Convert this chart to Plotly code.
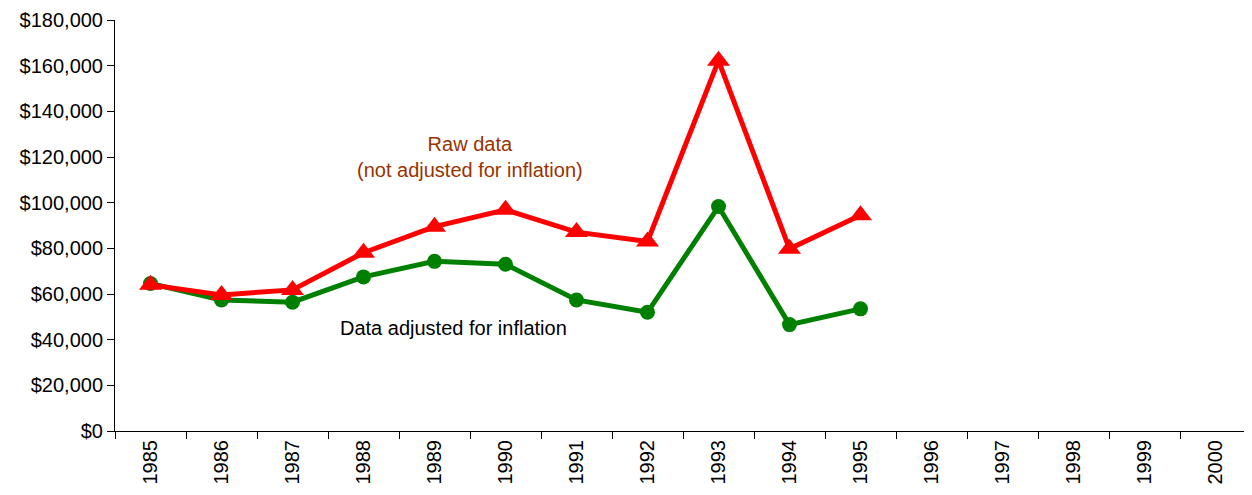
import plotly.graph_objects as go

years = [str(y) for y in range(1985, 2001)]
raw_data = [64000, 59600, 61800, 78100, 89500, 96900, 87100, 83000, 162200, 79800, 94500,
            None, None, None, None, None]
adjusted = [64600, 57400, 56400, 67500, 74300, 73000, 57400, 52000, 98300, 46600, 53500,
            None, None, None, None, None]
y_ticks = list(range(0, 180001, 20000))
y_tick_text = ["$" + format(v, ",") for v in y_ticks]

FONT = "Liberation Sans, Arial, sans-serif"

fig = go.Figure()
fig.add_trace(go.Scatter(
    x=years, y=adjusted, mode="lines+markers",
    line=dict(color="#008000", width=5),
    marker=dict(symbol="circle", size=15, color="#008000"),
    showlegend=False,
))
fig.add_trace(go.Scatter(
    x=years, y=raw_data, mode="lines+markers",
    line=dict(color="#FF0000", width=5),
    marker=dict(symbol="triangle-up", size=20, color="#FF0000"),
    showlegend=False,
))

fig.add_annotation(x=4.5, y=120000, xref="x", yref="y",
                   text="Raw data<br>(not adjusted for inflation)",
                   showarrow=False, font=dict(family=FONT, size=20, color="#993300"),
                   align="center")
fig.add_annotation(x=4.27, y=45000, xref="x", yref="y",
                   text="Data adjusted for inflation",
                   showarrow=False, font=dict(family=FONT, size=20, color="#000000"))

# page body has an 8px default margin, so the figure is sized to fit the window
fig.update_layout(
    width=1244, height=487,
    margin=dict(l=107, r=1, t=12, b=64, autoexpand=False),
    paper_bgcolor="white", plot_bgcolor="white",
    font=dict(family=FONT, size=20, color="black"),
)
fig.update_xaxes(
    type="category", categoryorder="array", categoryarray=years,
    range=[-0.5, 15.5], showgrid=False, showline=True, linecolor="black", linewidth=1,
    ticks="outside", tickson="boundaries", ticklen=7, tickcolor="black",
    tickangle=-90, tickfont=dict(family=FONT, size=20), zeroline=False,
    automargin=False, ticklabeloverflow="allow",
)
fig.update_yaxes(
    range=[0, 180000], tickvals=y_ticks, ticktext=y_tick_text,
    showgrid=False, showline=True, linecolor="black", linewidth=1,
    ticks="outside", ticklen=7, tickcolor="black", zeroline=False,
    tickfont=dict(family=FONT, size=20), automargin=False,
    ticklabeloverflow="allow",
)

fig.write_html("out.html")
